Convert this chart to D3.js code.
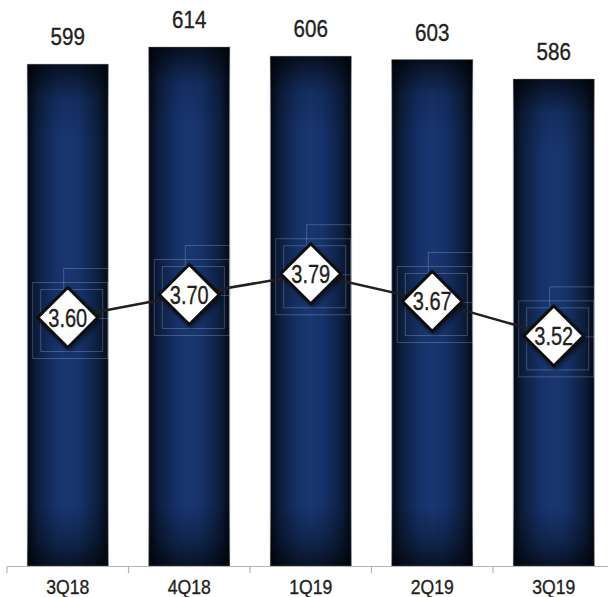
<!DOCTYPE html>
<html>
<head>
<meta charset="utf-8">
<script src="https://cdn.jsdelivr.net/npm/d3@7/dist/d3.min.js"></script>
<style>
  html, body { margin: 0; padding: 0; background: #fff; }
  svg { display: block; }
  .narrow { font-family: "Liberation Sans", Arial, sans-serif; stroke: #231f20; stroke-width: 0.35px; }
</style>
</head>
<body>
<svg id="chart" width="608" height="597"></svg>
<script>
// Quarterly values (bars) and ratio (diamond line)
const quarters = ["3Q18", "4Q18", "1Q19", "2Q19", "3Q19"];
const barValues = [599, 614, 606, 603, 586];
const lineValues = [3.60, 3.70, 3.79, 3.67, 3.52];

const W = 608, H = 597;
const svg = d3.select("#chart");
// horizontal compression for a condensed look
const squeezeLabel = 0.86;
const squeezeMark = 0.8;

const x = d3.scaleBand()
  .domain(quarters)
  .range([7, 614.5])
  .paddingInner(0.333)
  .paddingOuter(0.1665);

const baseY = 566;
const yBar = d3.scaleLinear().domain([160, 620]).range([baseY, 40.2]);
const yLine = d3.scaleLinear().domain([3.0, 4.0]).range([455.5, 225.5]);

const defs = svg.append("defs");

// horizontal shading of the bars
const hg = defs.append("linearGradient").attr("id", "barH").attr("x1", 0).attr("x2", 1).attr("y1", 0).attr("y2", 0);
[["0%", "#040914"], ["12%", "#0c1e3e"], ["35%", "#16326a"], ["50%", "#183670"], ["65%", "#16326a"], ["88%", "#0c1e3e"], ["100%", "#040914"]]
  .forEach(([o, c]) => hg.append("stop").attr("offset", o).attr("stop-color", c));

// vertical darkening at top and bottom
const vg = defs.append("linearGradient").attr("id", "barV").attr("x1", 0).attr("x2", 0).attr("y1", 0).attr("y2", 1);
[["0%", 0.7], ["7%", 0.15], ["15%", 0], ["88%", 0], ["95%", 0.3], ["100%", 0.65]]
  .forEach(([o, a]) => vg.append("stop").attr("offset", o).attr("stop-color", "#000").attr("stop-opacity", a));

const shadow = defs.append("filter").attr("id", "shadow").attr("x", "-30%").attr("y", "-30%").attr("width", "170%").attr("height", "170%");
shadow.append("feDropShadow").attr("dx", 2).attr("dy", 3).attr("stdDeviation", 2).attr("flood-color", "#000").attr("flood-opacity", 0.45);

// condensed text helper: places text at (tx, ty) squeezed horizontally
function narrowText(sel, tx, ty, k) {
  return sel.attr("transform", (d, i) => `translate(${tx(d, i)},${ty(d, i)}) scale(${k},1)`);
}

// bars
const bars = svg.append("g");
bars.selectAll("rect.base")
  .data(quarters)
  .join("rect")
  .attr("class", "base")
  .attr("x", d => x(d))
  .attr("y", (d, i) => yBar(barValues[i]))
  .attr("width", x.bandwidth())
  .attr("height", (d, i) => baseY - yBar(barValues[i]))
  .attr("fill", "url(#barH)")
  .attr("stroke", "#a9b0b8")
  .attr("stroke-width", 0.8);

bars.selectAll("rect.shade")
  .data(quarters)
  .join("rect")
  .attr("class", "shade")
  .attr("x", d => x(d))
  .attr("y", (d, i) => yBar(barValues[i]))
  .attr("width", x.bandwidth())
  .attr("height", (d, i) => baseY - yBar(barValues[i]))
  .attr("fill", "url(#barV)");

// bar value labels
narrowText(
  svg.append("g").selectAll("text")
    .data(quarters)
    .join("text")
    .attr("class", "narrow")
    .attr("text-anchor", "middle")
    .attr("font-size", 24)
    .attr("fill", "#231f20")
    .text((d, i) => barValues[i]),
  d => x(d) + x.bandwidth() / 2,
  (d, i) => yBar(barValues[i]) - 19,
  squeezeLabel
);

// category axis
const axis = svg.append("g").attr("transform", `translate(0,${baseY})`);
axis.append("line").attr("x1", 7).attr("x2", W).attr("y1", 0.5).attr("y2", 0.5)
  .attr("stroke", "#b5b5b5").attr("stroke-width", 1.2);
const step = x.step();
axis.selectAll("line.tick")
  .data(quarters)
  .join("line")
  .attr("class", "tick")
  .attr("x1", d => x(d) - (step - x.bandwidth()) / 2)
  .attr("x2", d => x(d) - (step - x.bandwidth()) / 2)
  .attr("y1", 0.5).attr("y2", 7)
  .attr("stroke", "#b5b5b5").attr("stroke-width", 1.2);
narrowText(
  axis.selectAll("text")
    .data(quarters)
    .join("text")
    .attr("class", "narrow")
    .attr("text-anchor", "middle")
    .attr("font-size", 20.5)
    .attr("fill", "#231f20")
    .text(d => d),
  d => x(d) + x.bandwidth() / 2,
  () => 27.5,
  squeezeLabel
);

// faint frames around the ratio markers
const cx = d => x(d) + x.bandwidth() / 2;
const frames = svg.append("g").attr("fill", "none").attr("stroke", "#c3cbd6").attr("stroke-opacity", 0.35).attr("stroke-width", 0.8);
quarters.forEach((q, i) => {
  const px = cx(q), py = yLine(lineValues[i]);
  frames.append("rect").attr("x", px - 35).attr("y", py - 35).attr("width", 75).attr("height", 76);
  frames.append("rect").attr("x", px - 27).attr("y", py - 28).attr("width", 62).attr("height", 62);
  frames.append("rect").attr("x", px - 4).attr("y", py - 49).attr("width", 45).attr("height", 50);
});

// ratio line
const line = d3.line().x((d, i) => cx(quarters[i])).y(d => yLine(d));
svg.append("path")
  .datum(lineValues)
  .attr("d", line)
  .attr("fill", "none")
  .attr("stroke", "#231f20")
  .attr("stroke-width", 2.5);

// diamond markers with values
const r = 30;
const marks = svg.append("g").selectAll("g")
  .data(lineValues)
  .join("g")
  .attr("transform", (d, i) => `translate(${cx(quarters[i])},${yLine(d)})`);
marks.append("path")
  .attr("d", `M0,${-r}L${r},0L0,${r}L${-r},0Z`)
  .attr("fill", "#fff")
  .attr("stroke", "#111")
  .attr("stroke-width", 3)
  .attr("stroke-linejoin", "round")
  .attr("filter", "url(#shadow)");
marks.append("text")
  .attr("class", "narrow")
  .attr("transform", `translate(0,9) scale(${squeezeMark},1)`)
  .attr("text-anchor", "middle")
  .attr("font-size", 25)
  .attr("fill", "#231f20")
  .text(d => d.toFixed(2));
</script>
</body>
</html>
